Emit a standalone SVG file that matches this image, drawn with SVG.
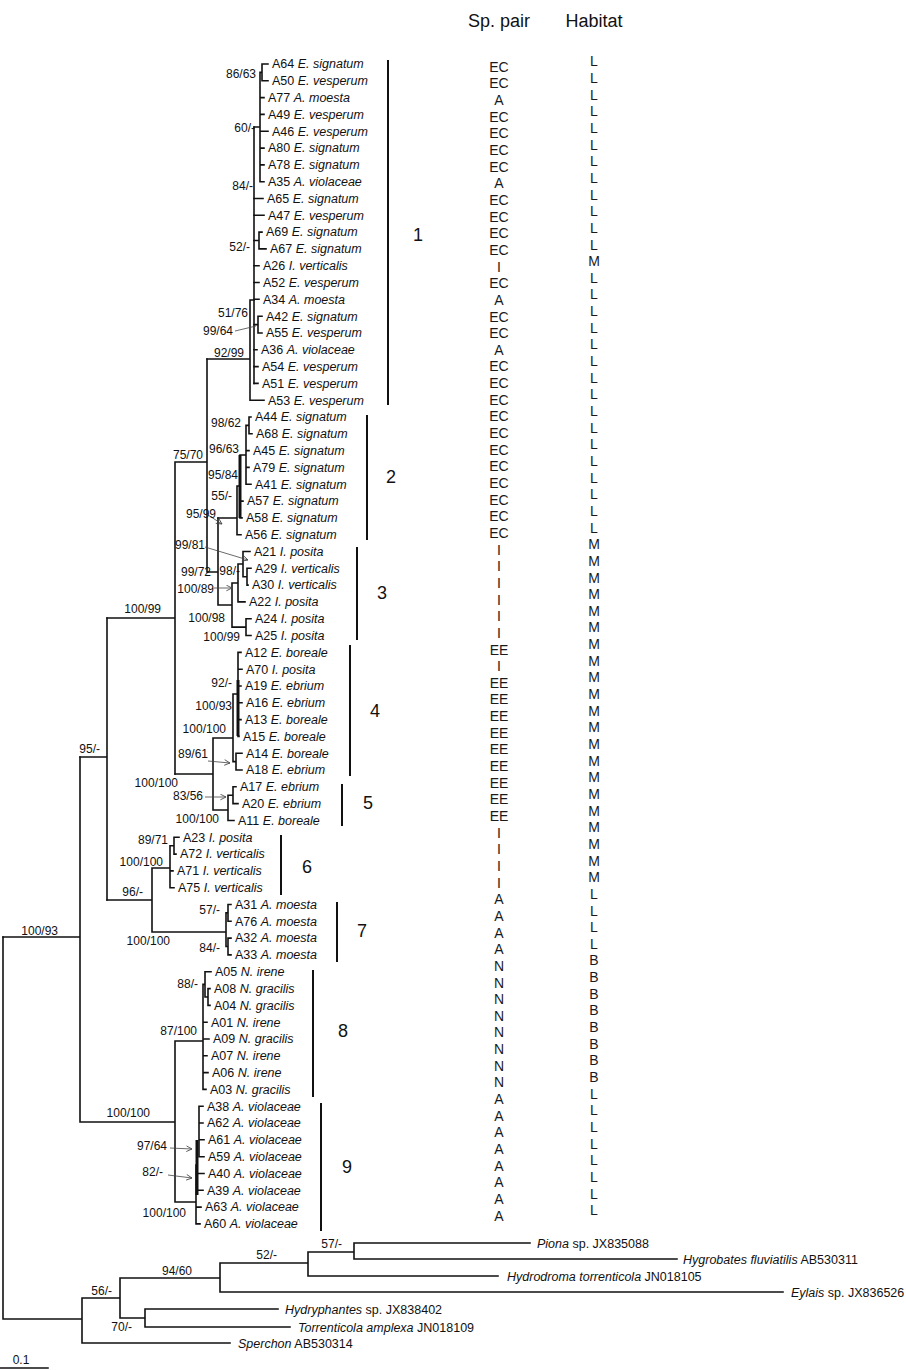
<svg xmlns="http://www.w3.org/2000/svg" width="906" height="1370" viewBox="0 0 906 1370">
<style>
.br{fill:none;stroke:#111;stroke-width:1.6;stroke-linecap:square}
.tk{fill:none;stroke:#111;stroke-width:3}
.ld{fill:none;stroke:#444;stroke-width:0.8}
.bk{fill:none;stroke:#111;stroke-width:2}
text{font-family:"Liberation Sans",Arial,sans-serif;fill:#111}
.tip{font-size:12.5px}
.i{font-style:italic}
.sp{font-size:12px}
.cl{font-size:18px;text-anchor:middle}
.col text{font-size:14px;text-anchor:middle;fill:#1a1a1a}
.hd{font-size:18px;text-anchor:middle}
</style>
<defs>
<marker id="ah" viewBox="0 0 10 10" refX="9" refY="5" markerWidth="7" markerHeight="7" orient="auto" markerUnits="userSpaceOnUse">
<path d="M1,1 L9,5 L1,9" fill="none" stroke="#444" stroke-width="1.2"/>
</marker>
</defs>
<rect width="906" height="1370" fill="#fff"/>

<g id="connectors">
<path class="br" d="M262,64 V80.8 M262,64 H268 M262,80.8 H268
M260,72.4 V181.7 M260,72.4 H262 M260,97.6 H264 M260,114.4 H264 M260,131.2 H268 M260,148.1 H264 M260,164.9 H264 M260,181.7 H264
M254,127 H260
M254,198.5 H263 M254,215.3 H264 M254,240.5 H259 M254,265.7 H259 M254,282.5 H259 M254,299.3 H259 M254,324.6 H258 M254,349.8 H257 M254,366.6 H258 M254,383.4 H258
M259,232.1 V248.9 M259,232.1 H262 M259,248.9 H266
M258,316.2 V333 M258,316.2 H262 M258,333 H262
M250,300 V400.2 M250,300 H254 M250,400.2 H264
M207,359 H250"/>
<path class="br" d="M254,127 V383.4" stroke-width="2.4"/>
<path class="br" d="M249,417 V433.8 M249,417 H251 M249,433.8 H252
M246,425.4 V484.3 M246,425.4 H249 M246,450.6 H249 M246,467.4 H249 M246,484.3 H251
M240,455 H246 M240,501.1 H243 M240,517.9 H242
M237,486 V534.7 M237,486 H240 M237,534.7 H241
M218,518 H237"/>
<path class="tk" d="M240,455 V518"/>
<path class="br" d="M247,568.3 V585.1 M247,568.3 H251 M247,585.1 H248
M243,551.5 V576.7 M243,551.5 H250 M243,576.7 H247
M238,564 V601.9 M238,564 H243 M238,601.9 H245
M246,618.7 V635.5 M246,618.7 H251 M246,635.5 H251
M232,583 V627.1 M232,583 H238 M232,627.1 H246
M218,605 H232
M218,518 V605 M207,572 H218
M207,359 V572 M175,462 H207
M175,462 V774 M107,618 H175"/>
<path class="br" d="M238,652.4 V736.4 M238,652.4 H241 M238,669.2 H242 M238,686 H241 M238,702.8 H242 M238,719.6 H241 M238,736.4 H239
M236,753.2 V770 M236,753.2 H242 M236,770 H242
M233,694 V761.6 M233,694 H238 M233,761.6 H236
M213,738 H233
M233,786.8 V803.6 M233,786.8 H236 M233,803.6 H238
M228,795.2 V820.5 M228,795.2 H233 M228,820.5 H234
M213,810 H228
M213,738 V810 M175,774 H213
M107,618 V900 M80,757 H107"/>
<path class="tk" d="M238,680 V736" stroke-width="2.6"/>
<path class="br" d="M174,837.3 V854.1 M174,837.3 H179 M174,854.1 H176
M170,845.7 V887.7 M170,845.7 H174 M170,870.9 H173 M170,887.7 H174
M152,868 H170
M228,904.5 V921.3 M228,904.5 H231 M228,921.3 H231
M228,938.1 V954.9 M228,938.1 H231 M228,954.9 H231
M226,912.9 V946.5 M226,912.9 H228 M226,946.5 H228
M152,932 H226
M152,868 V932 M107,900 H152"/>
<path class="br" d="M208,988.6 V1005.4 M208,988.6 H210 M208,1005.4 H210
M205,971.7 V997 M205,971.7 H211 M205,997 H208
M203,984.4 V1089.4 M203,984.4 H205 M203,1022.2 H207 M203,1039 H209 M203,1055.8 H207 M203,1072.6 H208 M203,1089.4 H206
M175,1041 H203
M199,1106.2 V1156.7 M199,1106.2 H203 M199,1123 H203 M199,1139.8 H204 M199,1156.7 H204
M197,1173.5 H204 M197,1190.3 H203
M196,1165 V1223.9 M196,1207.1 H201 M196,1223.9 H200
M175,1202 H196
M175,1041 V1202 M80,1122 H175
M80,757 V1122
M3,937 H80"/>
<path class="tk" d="M197,1140 V1195"/>
<path class="br" d="M3,937 V1319 M3,1319 H82
M82,1298 V1343 M82,1343 H230 M82,1298 H120
M120,1278 V1318 M120,1278 H220 M120,1318 H145
M145,1309 V1327 M145,1309 H278 M145,1327 H290
M220,1263 V1292 M220,1263 H308 M220,1292 H783
M308,1252 V1276 M308,1252 H354 M308,1276 H498
M354,1243 V1259 M354,1243 H530 M354,1259 H677"/>
<path class="ld" d="M235,331 L256,326"/>
<path class="ld" marker-end="url(#ah)" d="M208,515 L222,524"/>
<path class="ld" marker-end="url(#ah)" d="M205,547 L248,560"/>
<path class="ld" marker-end="url(#ah)" d="M214,588 L232,588"/>
<path class="ld" marker-end="url(#ah)" d="M208,761 L230,763"/>
<path class="ld" marker-end="url(#ah)" d="M205,797 L226,797"/>
<path class="ld" marker-end="url(#ah)" d="M170,1148 L192,1149"/>
<path class="ld" marker-end="url(#ah)" d="M168,1175 L192,1178"/>
<path class="br" d="M0,1368 H48"/>
</g>

<g id="support" class="sp">
<text x="256" y="78" text-anchor="end">86/63</text>
<text x="255" y="131.5" text-anchor="end">60/-</text>
<text x="253" y="190" text-anchor="end">84/-</text>
<text x="250" y="251" text-anchor="end">52/-</text>
<text x="248" y="317" text-anchor="end">51/76</text>
<text x="233" y="335" text-anchor="end">99/64</text>
<text x="244" y="357" text-anchor="end">92/99</text>
<text x="241" y="427" text-anchor="end">98/62</text>
<text x="239" y="453" text-anchor="end">96/63</text>
<text x="238" y="479" text-anchor="end">95/84</text>
<text x="232" y="500" text-anchor="end">55/-</text>
<text x="216" y="518" text-anchor="end">95/99</text>
<text x="203" y="459" text-anchor="end">75/70</text>
<text x="205" y="549" text-anchor="end">99/81</text>
<text x="211" y="576" text-anchor="end">99/72</text>
<text x="240" y="575" text-anchor="end">98/-</text>
<text x="214" y="593" text-anchor="end">100/89</text>
<text x="225" y="622" text-anchor="end">100/98</text>
<text x="240" y="641" text-anchor="end">100/99</text>
<text x="161" y="613" text-anchor="end">100/99</text>
<text x="232" y="687" text-anchor="end">92/-</text>
<text x="232" y="710" text-anchor="end">100/93</text>
<text x="226" y="733" text-anchor="end">100/100</text>
<text x="208" y="758" text-anchor="end">89/61</text>
<text x="178" y="787" text-anchor="end">100/100</text>
<text x="203" y="800" text-anchor="end">83/56</text>
<text x="219" y="823" text-anchor="end">100/100</text>
<text x="100" y="753" text-anchor="end">95/-</text>
<text x="168" y="844" text-anchor="end">89/71</text>
<text x="163" y="866" text-anchor="end">100/100</text>
<text x="143" y="896" text-anchor="end">96/-</text>
<text x="58" y="935" text-anchor="end">100/93</text>
<text x="220" y="914" text-anchor="end">57/-</text>
<text x="170" y="945" text-anchor="end">100/100</text>
<text x="220" y="952" text-anchor="end">84/-</text>
<text x="198" y="988" text-anchor="end">88/-</text>
<text x="197" y="1035" text-anchor="end">87/100</text>
<text x="150" y="1117" text-anchor="end">100/100</text>
<text x="167" y="1150" text-anchor="end">97/64</text>
<text x="163" y="1176" text-anchor="end">82/-</text>
<text x="186" y="1217" text-anchor="end">100/100</text>
<text x="342" y="1248" text-anchor="end">57/-</text>
<text x="277" y="1259" text-anchor="end">52/-</text>
<text x="192" y="1275" text-anchor="end">94/60</text>
<text x="112" y="1295" text-anchor="end">56/-</text>
<text x="132" y="1331" text-anchor="end">70/-</text>
<text x="21" y="1364" text-anchor="middle">0.1</text>
</g>

<g id="tips" class="tip">
<g id="t-A64"><text x="272" y="68.3">A64 <tspan class="i">E. signatum</tspan></text></g>
<g id="t-A50"><text x="272" y="85.1">A50 <tspan class="i">E. vesperum</tspan></text></g>
<g id="t-A77"><text x="268" y="101.9">A77 <tspan class="i">A. moesta</tspan></text></g>
<g id="t-A49"><text x="268" y="118.7">A49 <tspan class="i">E. vesperum</tspan></text></g>
<g id="t-A46"><text x="272" y="135.5">A46 <tspan class="i">E. vesperum</tspan></text></g>
<g id="t-A80"><text x="268" y="152.4">A80 <tspan class="i">E. signatum</tspan></text></g>
<g id="t-A78"><text x="268" y="169.2">A78 <tspan class="i">E. signatum</tspan></text></g>
<g id="t-A35"><text x="268" y="186">A35 <tspan class="i">A. violaceae</tspan></text></g>
<g id="t-A65"><text x="267" y="202.8">A65 <tspan class="i">E. signatum</tspan></text></g>
<g id="t-A47"><text x="268" y="219.6">A47 <tspan class="i">E. vesperum</tspan></text></g>
<g id="t-A69"><text x="266" y="236.4">A69 <tspan class="i">E. signatum</tspan></text></g>
<g id="t-A67"><text x="270" y="253.2">A67 <tspan class="i">E. signatum</tspan></text></g>
<g id="t-A26"><text x="263" y="270">A26 <tspan class="i">I. verticalis</tspan></text></g>
<g id="t-A52"><text x="263" y="286.8">A52 <tspan class="i">E. vesperum</tspan></text></g>
<g id="t-A34"><text x="263" y="303.6">A34 <tspan class="i">A. moesta</tspan></text></g>
<g id="t-A42"><text x="266" y="320.5">A42 <tspan class="i">E. signatum</tspan></text></g>
<g id="t-A55"><text x="266" y="337.3">A55 <tspan class="i">E. vesperum</tspan></text></g>
<g id="t-A36"><text x="261" y="354.1">A36 <tspan class="i">A. violaceae</tspan></text></g>
<g id="t-A54"><text x="262" y="370.9">A54 <tspan class="i">E. vesperum</tspan></text></g>
<g id="t-A51"><text x="262" y="387.7">A51 <tspan class="i">E. vesperum</tspan></text></g>
<g id="t-A53"><text x="268" y="404.5">A53 <tspan class="i">E. vesperum</tspan></text></g>
<g id="t-A44"><text x="255" y="421.3">A44 <tspan class="i">E. signatum</tspan></text></g>
<g id="t-A68"><text x="256" y="438.1">A68 <tspan class="i">E. signatum</tspan></text></g>
<g id="t-A45"><text x="253" y="454.9">A45 <tspan class="i">E. signatum</tspan></text></g>
<g id="t-A79"><text x="253" y="471.7">A79 <tspan class="i">E. signatum</tspan></text></g>
<g id="t-A41"><text x="255" y="488.6">A41 <tspan class="i">E. signatum</tspan></text></g>
<g id="t-A57"><text x="247" y="505.4">A57 <tspan class="i">E. signatum</tspan></text></g>
<g id="t-A58"><text x="246" y="522.2">A58 <tspan class="i">E. signatum</tspan></text></g>
<g id="t-A56"><text x="245" y="539">A56 <tspan class="i">E. signatum</tspan></text></g>
<g id="t-A21"><text x="254" y="555.8">A21 <tspan class="i">I. posita</tspan></text></g>
<g id="t-A29"><text x="255" y="572.6">A29 <tspan class="i">I. verticalis</tspan></text></g>
<g id="t-A30"><text x="252" y="589.4">A30 <tspan class="i">I. verticalis</tspan></text></g>
<g id="t-A22"><text x="249" y="606.2">A22 <tspan class="i">I. posita</tspan></text></g>
<g id="t-A24"><text x="255" y="623">A24 <tspan class="i">I. posita</tspan></text></g>
<g id="t-A25"><text x="255" y="639.8">A25 <tspan class="i">I. posita</tspan></text></g>
<g id="t-A12"><text x="245" y="656.7">A12 <tspan class="i">E. boreale</tspan></text></g>
<g id="t-A70"><text x="246" y="673.5">A70 <tspan class="i">I. posita</tspan></text></g>
<g id="t-A19"><text x="245" y="690.3">A19 <tspan class="i">E. ebrium</tspan></text></g>
<g id="t-A16"><text x="246" y="707.1">A16 <tspan class="i">E. ebrium</tspan></text></g>
<g id="t-A13"><text x="245" y="723.9">A13 <tspan class="i">E. boreale</tspan></text></g>
<g id="t-A15"><text x="243" y="740.7">A15 <tspan class="i">E. boreale</tspan></text></g>
<g id="t-A14"><text x="246" y="757.5">A14 <tspan class="i">E. boreale</tspan></text></g>
<g id="t-A18"><text x="246" y="774.3">A18 <tspan class="i">E. ebrium</tspan></text></g>
<g id="t-A17"><text x="240" y="791.1">A17 <tspan class="i">E. ebrium</tspan></text></g>
<g id="t-A20"><text x="242" y="807.9">A20 <tspan class="i">E. ebrium</tspan></text></g>
<g id="t-A11"><text x="238" y="824.8">A11 <tspan class="i">E. boreale</tspan></text></g>
<g id="t-A23"><text x="183" y="841.6">A23 <tspan class="i">I. posita</tspan></text></g>
<g id="t-A72"><text x="180" y="858.4">A72 <tspan class="i">I. verticalis</tspan></text></g>
<g id="t-A71"><text x="177" y="875.2">A71 <tspan class="i">I. verticalis</tspan></text></g>
<g id="t-A75"><text x="178" y="892">A75 <tspan class="i">I. verticalis</tspan></text></g>
<g id="t-A31"><text x="235" y="908.8">A31 <tspan class="i">A. moesta</tspan></text></g>
<g id="t-A76"><text x="235" y="925.6">A76 <tspan class="i">A. moesta</tspan></text></g>
<g id="t-A32"><text x="235" y="942.4">A32 <tspan class="i">A. moesta</tspan></text></g>
<g id="t-A33"><text x="235" y="959.2">A33 <tspan class="i">A. moesta</tspan></text></g>
<g id="t-A05"><text x="215" y="976">A05 <tspan class="i">N. irene</tspan></text></g>
<g id="t-A08"><text x="214" y="992.9">A08 <tspan class="i">N. gracilis</tspan></text></g>
<g id="t-A04"><text x="214" y="1009.7">A04 <tspan class="i">N. gracilis</tspan></text></g>
<g id="t-A01"><text x="211" y="1026.5">A01 <tspan class="i">N. irene</tspan></text></g>
<g id="t-A09"><text x="213" y="1043.3">A09 <tspan class="i">N. gracilis</tspan></text></g>
<g id="t-A07"><text x="211" y="1060.1">A07 <tspan class="i">N. irene</tspan></text></g>
<g id="t-A06"><text x="212" y="1076.9">A06 <tspan class="i">N. irene</tspan></text></g>
<g id="t-A03"><text x="210" y="1093.7">A03 <tspan class="i">N. gracilis</tspan></text></g>
<g id="t-A38"><text x="207" y="1110.5">A38 <tspan class="i">A. violaceae</tspan></text></g>
<g id="t-A62"><text x="207" y="1127.3">A62 <tspan class="i">A. violaceae</tspan></text></g>
<g id="t-A61"><text x="208" y="1144.1">A61 <tspan class="i">A. violaceae</tspan></text></g>
<g id="t-A59"><text x="208" y="1161">A59 <tspan class="i">A. violaceae</tspan></text></g>
<g id="t-A40"><text x="208" y="1177.8">A40 <tspan class="i">A. violaceae</tspan></text></g>
<g id="t-A39"><text x="207" y="1194.6">A39 <tspan class="i">A. violaceae</tspan></text></g>
<g id="t-A63"><text x="205" y="1211.4">A63 <tspan class="i">A. violaceae</tspan></text></g>
<g id="t-A60"><text x="204" y="1228.2">A60 <tspan class="i">A. violaceae</tspan></text></g>
<g id="t-Piona"><text x="537" y="1247.5"><tspan class="i">Piona</tspan> sp. JX835088</text></g>
<g id="t-Hygrobates"><text x="683" y="1264"><tspan class="i">Hygrobates fluviatilis</tspan> AB530311</text></g>
<g id="t-Hydrodroma"><text x="507" y="1281"><tspan class="i">Hydrodroma torrenticola</tspan> JN018105</text></g>
<g id="t-Eylais"><text x="791" y="1297"><tspan class="i">Eylais</tspan> sp. JX836526</text></g>
<g id="t-Hydryphantes"><text x="285" y="1313.5"><tspan class="i">Hydryphantes</tspan> sp. JX838402</text></g>
<g id="t-Torrenticola"><text x="298" y="1331.5"><tspan class="i">Torrenticola amplexa</tspan> JN018109</text></g>
<g id="t-Sperchon"><text x="238" y="1347.5"><tspan class="i">Sperchon</tspan> AB530314</text></g>
</g>

<g id="clades">
<path class="bk" d="M388,60 V405 M367,415 V540 M357,547 V640 M350,645 V776 M342,784 V826 M281,835 V895 M337,902 V962 M313,970 V1097 M321,1103 V1231"/>
<text class="cl" x="418" y="241">1</text>
<text class="cl" x="391" y="483">2</text>
<text class="cl" x="382" y="599">3</text>
<text class="cl" x="375" y="717">4</text>
<text class="cl" x="368" y="809">5</text>
<text class="cl" x="307" y="873">6</text>
<text class="cl" x="362" y="937">7</text>
<text class="cl" x="343" y="1037">8</text>
<text class="cl" x="347" y="1173">9</text>
</g>

<g id="columns">
<text class="hd" x="499" y="27">Sp. pair</text>
<text class="hd" x="594" y="27">Habitat</text>
<g id="sp-pair" class="col">
<text x="499" y="71.7">EC</text><text x="499" y="88.4">EC</text><text x="499" y="105">A</text><text x="499" y="121.7">EC</text><text x="499" y="138.3">EC</text><text x="499" y="155">EC</text><text x="499" y="171.6">EC</text><text x="499" y="188.3">A</text><text x="499" y="204.9">EC</text><text x="499" y="221.6">EC</text>
<text x="499" y="238.2">EC</text><text x="499" y="254.9">EC</text><text x="499" y="271.5">I</text><text x="499" y="288.2">EC</text><text x="499" y="304.8">A</text><text x="499" y="321.5">EC</text><text x="499" y="338.1">EC</text><text x="499" y="354.8">A</text><text x="499" y="371.4">EC</text><text x="499" y="388.1">EC</text>
<text x="499" y="404.7">EC</text><text x="499" y="421.4">EC</text><text x="499" y="438">EC</text><text x="499" y="454.7">EC</text><text x="499" y="471.3">EC</text><text x="499" y="488">EC</text><text x="499" y="504.6">EC</text><text x="499" y="521.3">EC</text><text x="499" y="537.9">EC</text><text x="499" y="554.6">I</text>
<text x="499" y="571.2">I</text><text x="499" y="587.9">I</text><text x="499" y="604.5">I</text><text x="499" y="621.2">I</text><text x="499" y="637.8">I</text><text x="499" y="654.5">EE</text><text x="499" y="671.1">I</text><text x="499" y="687.8">EE</text><text x="499" y="704.4">EE</text><text x="499" y="721.1">EE</text>
<text x="499" y="737.7">EE</text><text x="499" y="754.4">EE</text><text x="499" y="771">EE</text><text x="499" y="787.7">EE</text><text x="499" y="804.3">EE</text><text x="499" y="821">EE</text><text x="499" y="837.6">I</text><text x="499" y="854.3">I</text><text x="499" y="870.9">I</text><text x="499" y="887.6">I</text>
<text x="499" y="904.2">A</text><text x="499" y="920.9">A</text><text x="499" y="937.5">A</text><text x="499" y="954.2">A</text><text x="499" y="970.8">N</text><text x="499" y="987.5">N</text><text x="499" y="1004.1">N</text><text x="499" y="1020.8">N</text><text x="499" y="1037.4">N</text><text x="499" y="1054.1">N</text>
<text x="499" y="1070.7">N</text><text x="499" y="1087.4">N</text><text x="499" y="1104">A</text><text x="499" y="1120.7">A</text><text x="499" y="1137.3">A</text><text x="499" y="1154">A</text><text x="499" y="1170.6">A</text><text x="499" y="1187.3">A</text><text x="499" y="1203.9">A</text><text x="499" y="1220.6">A</text>
</g>
<g id="habitat" class="col">
<text x="594" y="66.3">L</text><text x="594" y="83">L</text><text x="594" y="99.6">L</text><text x="594" y="116.3">L</text><text x="594" y="132.9">L</text><text x="594" y="149.6">L</text><text x="594" y="166.2">L</text><text x="594" y="182.9">L</text><text x="594" y="199.5">L</text><text x="594" y="216.2">L</text>
<text x="594" y="232.8">L</text><text x="594" y="249.5">L</text><text x="594" y="266.1">M</text><text x="594" y="282.8">L</text><text x="594" y="299.4">L</text><text x="594" y="316.1">L</text><text x="594" y="332.7">L</text><text x="594" y="349.4">L</text><text x="594" y="366">L</text><text x="594" y="382.7">L</text>
<text x="594" y="399.3">L</text><text x="594" y="416">L</text><text x="594" y="432.6">L</text><text x="594" y="449.3">L</text><text x="594" y="465.9">L</text><text x="594" y="482.6">L</text><text x="594" y="499.2">L</text><text x="594" y="515.9">L</text><text x="594" y="532.5">L</text><text x="594" y="549.2">M</text>
<text x="594" y="565.8">M</text><text x="594" y="582.5">M</text><text x="594" y="599.1">M</text><text x="594" y="615.8">M</text><text x="594" y="632.4">M</text><text x="594" y="649.1">M</text><text x="594" y="665.7">M</text><text x="594" y="682.4">M</text><text x="594" y="699">M</text><text x="594" y="715.7">M</text>
<text x="594" y="732.3">M</text><text x="594" y="749">M</text><text x="594" y="765.6">M</text><text x="594" y="782.3">M</text><text x="594" y="798.9">M</text><text x="594" y="815.6">M</text><text x="594" y="832.2">M</text><text x="594" y="848.9">M</text><text x="594" y="865.5">M</text><text x="594" y="882.2">M</text>
<text x="594" y="898.8">L</text><text x="594" y="915.5">L</text><text x="594" y="932.1">L</text><text x="594" y="948.8">L</text><text x="594" y="965.4">B</text><text x="594" y="982.1">B</text><text x="594" y="998.7">B</text><text x="594" y="1015.4">B</text><text x="594" y="1032">B</text><text x="594" y="1048.7">B</text>
<text x="594" y="1065.3">B</text><text x="594" y="1082">B</text><text x="594" y="1098.6">L</text><text x="594" y="1115.3">L</text><text x="594" y="1131.9">L</text><text x="594" y="1148.6">L</text><text x="594" y="1165.2">L</text><text x="594" y="1181.9">L</text><text x="594" y="1198.5">L</text><text x="594" y="1215.2">L</text>
</g>
</g>
</svg>
